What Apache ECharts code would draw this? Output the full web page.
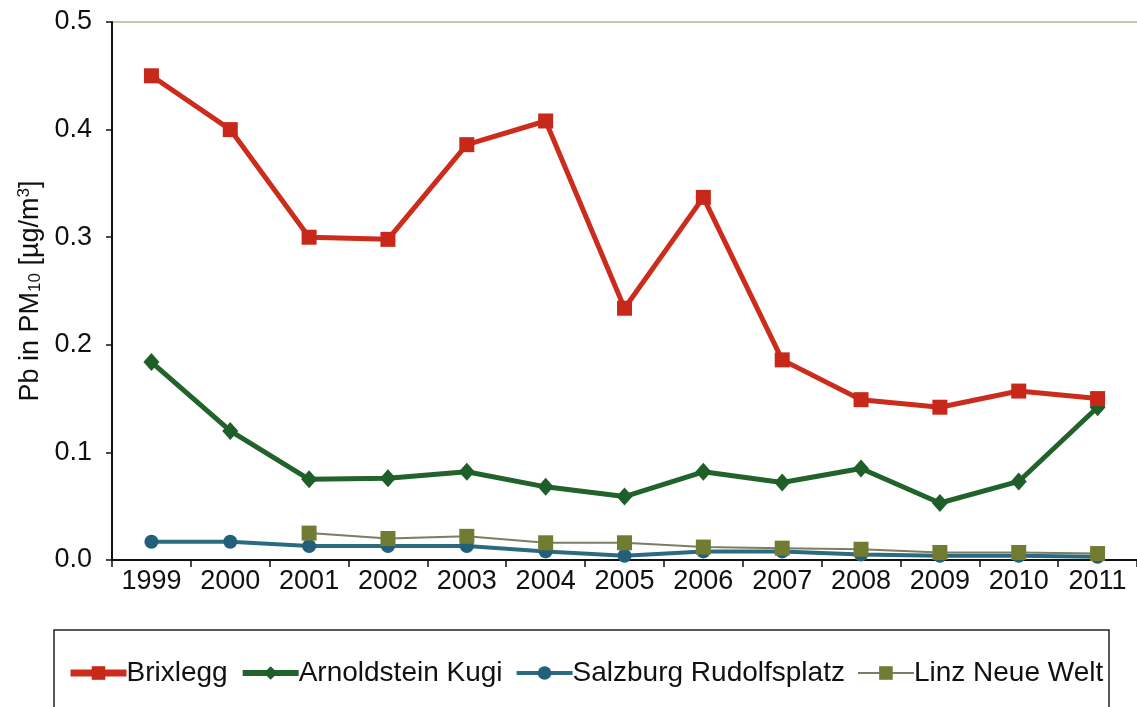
<!DOCTYPE html>
<html>
<head>
<meta charset="utf-8">
<script src="https://cdn.jsdelivr.net/npm/echarts@6/dist/echarts.min.js"></script>
<style>
  html, body { margin: 0; padding: 0; background: #fff; }
  #chart { width: 1137px; height: 707px; }
</style>
</head>
<body>
<div id="chart"></div>
<script>
const years = ['1999', '2000', '2001', '2002', '2003', '2004', '2005', '2006', '2007', '2008', '2009', '2010', '2011'];
const brixlegg = [0.45, 0.40, 0.30, 0.298, 0.386, 0.408, 0.234, 0.337, 0.186, 0.149, 0.142, 0.157, 0.150];
const arnoldstein = [0.184, 0.120, 0.075, 0.076, 0.082, 0.068, 0.059, 0.082, 0.072, 0.085, 0.053, 0.073, 0.142];
const salzburg = [0.017, 0.017, 0.013, 0.013, 0.013, 0.008, 0.004, 0.008, 0.008, 0.005, 0.004, 0.004, 0.003];
const linz = [null, null, 0.025, 0.020, 0.022, 0.016, 0.016, 0.012, 0.011, 0.010, 0.007, 0.007, 0.006];
const yTicks = [0, 0.1, 0.2, 0.3, 0.4, 0.5];

const chart = echarts.init(document.getElementById('chart'));

const font = 'Liberation Sans, Arial, sans-serif';

chart.setOption({
    animation: false,
    textStyle: { fontFamily: font },
    grid: { left: 112, right: -4, top: 22, bottom: 147 },
    legend: {
        top: 654,
        left: 62,
        itemWidth: 56,
        itemHeight: 17,
        itemGap: 12,
        textStyle: { fontSize: 28, color: '#111', fontFamily: font, padding: [0, 0, 0, -5] },
        data: [
            { name: 'Brixlegg', lineStyle: { width: 7 } },
            { name: 'Arnoldstein Kugi', lineStyle: { width: 6 } },
            { name: 'Salzburg Rudolfsplatz', lineStyle: { width: 4 } },
            { name: 'Linz Neue Welt', lineStyle: { width: 2 } }
        ]
    },
    graphic: [
        {
            // plot-area top border
            type: 'line',
            shape: { x1: 112, y1: 22, x2: 1137, y2: 22 },
            style: { stroke: '#b4b496', lineWidth: 1.5 },
            silent: true
        },
        {
            // legend frame
            type: 'rect',
            shape: { x: 54, y: 630, width: 1055, height: 110 },
            style: { fill: 'none', stroke: '#222', lineWidth: 1.5 },
            silent: true
        }
    ],
    xAxis: {
        type: 'category',
        data: years,
        boundaryGap: true,
        axisLine: { lineStyle: { color: '#111', width: 2 } },
        axisTick: { show: true, length: 7, inside: false, lineStyle: { color: '#111', width: 1.5 } },
        axisLabel: { fontSize: 27, color: '#111', margin: 8 }
    },
    yAxis: {
        type: 'value',
        min: 0, max: 0.5, interval: 0.1,
        name: 'Pb in PM{sub|10} [µg/m{sup|3}]',
        nameLocation: 'middle',
        nameGap: 66,
        nameRotate: 90,
        nameTextStyle: {
            fontSize: 27, color: '#111',
            rich: {
                sub: { fontSize: 17, padding: [10, 0, 0, 0], color: '#111' },
                sup: { fontSize: 17, padding: [0, 0, 12, 0], color: '#111' }
            }
        },
        splitLine: { show: false },
        axisLine: { show: true, lineStyle: { color: '#111', width: 2 } },
        axisTick: { show: true, length: 6, lineStyle: { color: '#111', width: 1.5 } },
        axisLabel: {
            fontSize: 27, color: '#111', margin: 20,
            formatter: v => yTicks.includes(Math.round(v * 10) / 10) ? v.toFixed(1) : ''
        }
    },
    series: [
        {
            name: 'Linz Neue Welt', type: 'line', data: linz, z: 2,
            symbol: 'rect', symbolSize: 15,
            lineStyle: { color: '#7d7d62', width: 2 },
            itemStyle: { color: '#717c32' }
        },
        {
            name: 'Salzburg Rudolfsplatz', type: 'line', data: salzburg, z: 1,
            symbol: 'circle', symbolSize: 14,
            lineStyle: { color: '#2a6b82', width: 4 },
            itemStyle: { color: '#22607a' }
        },
        {
            name: 'Arnoldstein Kugi', type: 'line', data: arnoldstein, z: 3,
            symbol: 'diamond', symbolSize: [16, 18],
            lineStyle: { color: '#22622b', width: 5 },
            itemStyle: { color: '#1e5e28' }
        },
        {
            name: 'Brixlegg', type: 'line', data: brixlegg, z: 4,
            symbol: 'rect', symbolSize: 15,
            lineStyle: { color: '#cc2c1c', width: 5 },
            itemStyle: { color: '#c8281a' }
        }
    ]
});
</script>
</body>
</html>
